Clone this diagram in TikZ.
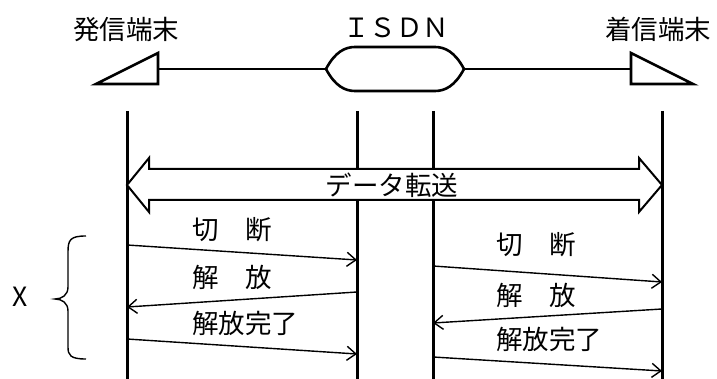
\documentclass[tikz,border=0pt]{standalone}
\usepackage{fontspec}
\setmainfont{Noto Sans CJK JP}
\usetikzlibrary{arrows.meta}

\tikzset{
  lifeline/.style={line width=3pt},
  termline/.style={line width=2.6pt, line join=miter},
  msgline/.style={line width=1.4pt, -{Straight Barb[length=9pt,width=14pt]}},
  msgtext/.style={inner sep=0pt, font=\fontsize{26.5}{30}\selectfont},
}

\begin{document}
\begin{tikzpicture}[x=1pt, y=-1pt]
    \useasboundingbox (0,0) rectangle (717,379);

    % Terminals and network
    \draw[termline] (96,84) -- (158,53) -- (158,84) -- cycle;
    \draw[termline] (631,53) -- (693,84) -- (631,84) -- cycle;
    \coordinate (origT) at (158,69);
    \coordinate (destT) at (631,69);
    \draw[termline] (326,69) .. controls (335,52) and (345,47) .. (355,47) -- (435,47)
        .. controls (445,47) and (455,52) .. (464,69)
        .. controls (455,86) and (445,91) .. (435,91) -- (355,91)
        .. controls (345,91) and (335,86) .. (326,69) -- cycle;
    \coordinate (isdnW) at (326,69);
    \coordinate (isdnE) at (464,69);
    \draw[termline] (origT) -- (isdnW);
    \draw[termline] (isdnE) -- (destT);

    \node[msgtext] (origname) at (126,29) {発信端末};
    \node[msgtext] (isdnname) at (396,28) {ＩＳＤＮ};
    \node[msgtext] (destname) at (658,29) {着信端末};

    % Lifelines
    \coordinate (lA) at (127,111);
    \coordinate (lB) at (357,111);
    \coordinate (lC) at (433,111);
    \coordinate (lD) at (662,111);
    \draw[lifeline] (lA) -- (127,379);
    \draw[lifeline] (lB) -- (357,379);
    \draw[lifeline] (lC) -- (433,379);
    \draw[lifeline] (lD) -- (662,379);

    % Data transfer arrow
    \draw[fill=white, line width=2pt, line join=miter] (127,185) -- (149,158) -- (149,169)
        -- (639,169) -- (639,158) -- (662,185) -- (639,212) -- (639,200)
        -- (149,200) -- (149,212) -- cycle;
    \node[msgtext] (datatx) at (392,185) {データ転送};

    % Left side messages
    \coordinate (a1) at (127,245); \coordinate (b1) at (357,260);
    \coordinate (a2) at (127,307); \coordinate (b2) at (357,292);
    \coordinate (a3) at (127,339); \coordinate (b3) at (357,354);
    \draw[msgline] (a1) -- (b1);
    \draw[msgline] (b2) -- (a2);
    \draw[msgline] (a3) -- (b3);
    \node[msgtext, anchor=west] (cutL) at (192,230) {切　断};
    \node[msgtext, anchor=west] (relL) at (192,277) {解　放};
    \node[msgtext, anchor=west] (cmpL) at (192,323) {解放完了};

    % Right side messages
    \coordinate (c1) at (433,266); \coordinate (d1) at (662,282);
    \coordinate (c2) at (433,323); \coordinate (d2) at (662,309);
    \coordinate (c3) at (433,357); \coordinate (d3) at (662,371);
    \draw[msgline] (c1) -- (d1);
    \draw[msgline] (d2) -- (c2);
    \draw[msgline] (c3) -- (d3);
    \node[msgtext, anchor=west] (cutR) at (496,245) {切　断};
    \node[msgtext, anchor=west] (relR) at (496,295) {解　放};
    \node[msgtext, anchor=west] (cmpR) at (496,339) {解放完了};

    % Brace and its label
    \draw[line width=1.4pt] (86,236) .. controls (70,236) and (68,240) .. (68,252) -- (68,287)
        .. controls (68,295) and (62,299) .. (55,299)
        .. controls (62,299) and (68,303) .. (68,311) -- (68,347)
        .. controls (68,355) and (70,359) .. (86,359);
    \node[msgtext] (xname) at (20,297) {X};
\end{tikzpicture}
\end{document}
